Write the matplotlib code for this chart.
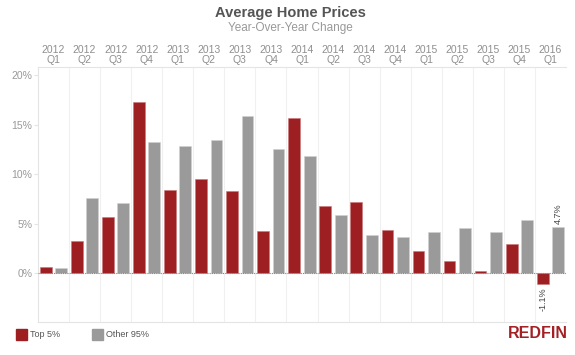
import matplotlib.pyplot as plt
import numpy as np

plt.rcParams['font.family'] = ['Liberation Sans', 'DejaVu Sans']

years = ["2012", "2012", "2012", "2012", "2013", "2013", "2013", "2013", "2014",
         "2014", "2014", "2014", "2015", "2015", "2015", "2015", "2016"]
quarters = ["Q1", "Q2", "Q3", "Q4", "Q1", "Q2", "Q3", "Q4", "Q1",
            "Q2", "Q3", "Q4", "Q1", "Q2", "Q3", "Q4", "Q1"]
top5 = [0.6, 3.2, 5.7, 17.3, 8.4, 9.5, 8.3, 4.3, 15.7, 6.8, 7.2, 4.4, 2.2, 1.2, 0.2, 2.9, -1.1]
other95 = [0.5, 7.6, 7.1, 13.3, 12.9, 13.5, 15.9, 12.6, 11.8, 5.9, 3.9, 3.7, 4.2, 4.6, 4.2, 5.4, 4.7]

red = "#9e1f22"
grey = "#9a9a9a"
light = "#e4e4e4"

fig = plt.figure(figsize=(5.75, 3.55), dpi=100)
ax = fig.add_axes([38 / 575, 1 - 322 / 355, 528 / 575, (322 - 66.5) / 355])

x = np.arange(len(top5))
ax.bar(x - 0.25, top5, width=0.38, color=red, edgecolor="#c9787a", linewidth=0.4, zorder=3)
ax.bar(x + 0.245, other95, width=0.38, color=grey, edgecolor="#d0d0d0", linewidth=0.4, zorder=3)

ax.set_xlim(-0.5, len(x) - 0.5)
ax.set_ylim(-4.95, 20.9)

# panel separators
for i in range(1, len(x)):
    ax.axvline(i - 0.5, color="#f0f0f0", lw=0.8, zorder=1)
ax.axhline(0, color="#888888", lw=0.8, ls=(0, (1, 1)), zorder=4)

ax.spines["right"].set_visible(False)
for s in ["left", "top", "bottom"]:
    ax.spines[s].set_color(light)
    ax.spines[s].set_linewidth(0.8)

ax.set_xticks([])
ax.set_yticks([0, 5, 10, 15, 20])
ax.set_yticklabels(["0%", "5%", "10%", "15%", "20%"])
ax.tick_params(axis="y", colors=light, labelcolor="#999999", labelsize=7.5, length=3, width=0.8, pad=1)

# column headers
for i in range(len(x)):
    ax.text(i, 1.005, years[i] + "\n" + quarters[i], transform=ax.get_xaxis_transform(),
            ha="center", va="bottom", fontsize=7.5, color="#8f8f8f", linespacing=1.0)

# value labels
ax.text(x[-1] + 0.245, other95[-1] + 0.3, "4.7%", rotation=90, ha="center", va="bottom",
        fontsize=6.5, color="#444444")
ax.text(x[-1] - 0.25, top5[-1] - 0.3, "-1.1%", rotation=90, ha="center", va="top",
        fontsize=6.5, color="#444444")

fig.text(290 / 575, 1 - 13.5 / 355, "Average Home Prices", ha="center", va="center",
         fontsize=10.5, fontweight="bold", color="#555555")
fig.text(290 / 575, 1 - 27.5 / 355, "Year-Over-Year Change", ha="center", va="center",
         fontsize=8.5, color="#999999")

# legend
fig.patches.append(plt.Rectangle((16 / 575, 1 - 340 / 355), 11 / 575, 11 / 355,
                                 transform=fig.transFigure, color=red))
fig.text(30 / 575, 1 - 334.5 / 355, "Top 5%", ha="left", va="center", fontsize=6.5, color="#555555")
fig.patches.append(plt.Rectangle((92 / 575, 1 - 340 / 355), 11 / 575, 11 / 355,
                                 transform=fig.transFigure, color=grey))
fig.text(106 / 575, 1 - 334.5 / 355, "Other 95%", ha="left", va="center", fontsize=6.5, color="#555555")

fig.text(568 / 575, 1 - 334 / 355, "REDFIN", ha="right", va="center", fontsize=11.5,
         fontweight="bold", color="#a32125")

fig.savefig("out.png", dpi=100, facecolor="white")
